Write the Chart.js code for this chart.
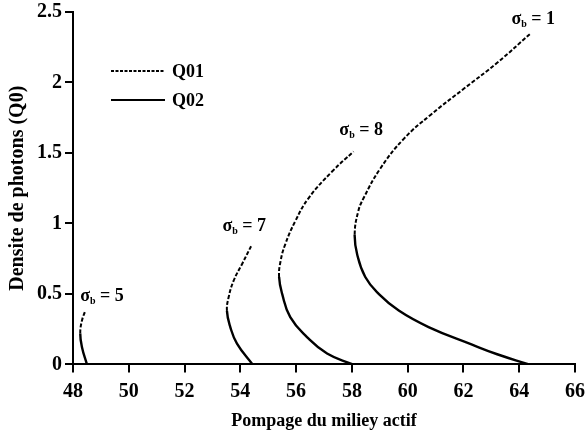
<!DOCTYPE html>
<html>
<head>
<meta charset="utf-8">
<script src="https://cdn.jsdelivr.net/npm/chart.js@4"></script>
<style>
  html, body { margin: 0; padding: 0; background: #fff; }
  #wrap { width: 585px; height: 436px; }
</style>
</head>
<body>
<div id="wrap"><canvas id="foldChart"></canvas></div>
<script>
  // axis extents (ticks every 2 on x, every 0.5 on y)
  const xRange = [48, 66];
  const yRange = [0, 2.5];

  // [pompage, densite] along each curve, from the x-axis end, through the
  // turning point, up to the top end. The *Turn index is where Q01 begins.
  const sigma1Curve = [[64.35, 0], [63.21, 0.072], [62.31, 0.14], [60.75, 0.265], [59.68, 0.382], [58.96, 0.50], [58.48, 0.62], [58.19, 0.78], [58.10, 0.92], [58.22, 1.08], [58.42, 1.18], [59.02, 1.39], [59.86, 1.60], [60.82, 1.77], [62.01, 1.955], [63.21, 2.14], [64.42, 2.35]];
  const sigma1Turn = 8;
  const sigma8Curve = [[58.03, 0], [57.11, 0.077], [56.39, 0.194], [55.79, 0.335], [55.50, 0.50], [55.39, 0.62], [55.44, 0.73], [55.61, 0.852], [55.97, 1.016], [56.45, 1.18], [57.29, 1.368], [58.06, 1.51]];
  const sigma8Turn = 5;
  const sigma7Curve = [[54.44, 0], [53.88, 0.148], [53.64, 0.265], [53.52, 0.38], [53.58, 0.476], [53.76, 0.594], [54.06, 0.711], [54.42, 0.852]];
  const sigma7Turn = 3;
  const sigma5Curve = [[48.50, 0], [48.32, 0.124], [48.26, 0.22], [48.32, 0.31], [48.44, 0.38]];
  const sigma5Turn = 2;

  // curve labels: sigma_b value and where its text starts
  const sigmaLabels = [
    { value: 1, x: 63.72, y: 2.45 },
    { value: 8, x: 57.55, y: 1.66 },
    { value: 7, x: 53.36, y: 0.98 },
    { value: 5, x: 48.26, y: 0.48 }
  ];

  const seriesNames = ["Q01", "Q02"];

  const SERIF = "'Liberation Serif', 'DejaVu Serif', serif";
  const DASH = [4, 2];

  function curve(arr, turn) {
    return {
      label: seriesNames.join("/"),
      data: arr.map(p => ({ x: p[0], y: p[1] })),
      showLine: true,
      borderColor: "#000",
      borderWidth: 2.2,
      pointRadius: 0,
      tension: 0.45,
      fill: false,
      // upper branch (Q01) dashed, lower branch (Q02) solid
      segment: {
        borderDash: ctx => ctx.p0DataIndex >= turn ? DASH : undefined,
        borderWidth: ctx => ctx.p0DataIndex >= turn ? 2 : 2.4
      }
    };
  }

  // legend drawn inside the plot, top-left
  const innerLegend = {
    id: "innerLegend",
    afterDraw(chart) {
      const ctx = chart.ctx;
      const a = chart.chartArea;
      const x0 = a.left + 38, x1 = a.left + 92;
      const rows = [{ y: a.top + 59, dash: [3, 1.5] }, { y: a.top + 88, dash: [] }];
      ctx.save();
      ctx.strokeStyle = "#000";
      ctx.fillStyle = "#000";
      ctx.font = "bold 18px " + SERIF;
      ctx.textBaseline = "middle";
      rows.forEach((r, i) => {
        ctx.lineWidth = 2;
        ctx.setLineDash(r.dash);
        ctx.beginPath();
        ctx.moveTo(x0, r.y);
        ctx.lineTo(x1, r.y);
        ctx.stroke();
        ctx.fillText(seriesNames[i], x1 + 7, r.y + 1);
      });
      ctx.restore();
    }
  };

  // "σb = n" labels next to each curve
  const sigmaText = {
    id: "sigmaText",
    afterDraw(chart) {
      const ctx = chart.ctx;
      const sx = chart.scales.x, sy = chart.scales.y;
      ctx.save();
      ctx.fillStyle = "#000";
      ctx.textBaseline = "middle";
      sigmaLabels.forEach(l => {
        let px = sx.getPixelForValue(l.x);
        const py = sy.getPixelForValue(l.y);
        ctx.font = "bold 18px " + SERIF;
        ctx.fillText("σ", px, py);
        px += ctx.measureText("σ").width;
        ctx.font = "bold 10px " + SERIF;
        ctx.fillText("b", px, py + 5);
        px += ctx.measureText("b").width;
        ctx.font = "bold 18px " + SERIF;
        ctx.fillText(" = " + l.value, px, py);
      });
      ctx.restore();
    }
  };

  const grid = { display: true, drawOnChartArea: false, drawTicks: true, tickLength: 8, color: "#000", lineWidth: 2 };
  const border = { display: true, color: "#000", width: 2 };

  new Chart(document.getElementById("foldChart"), {
    type: "scatter",
    data: {
      datasets: [
        curve(sigma1Curve, sigma1Turn),
        curve(sigma8Curve, sigma8Turn),
        curve(sigma7Curve, sigma7Turn),
        curve(sigma5Curve, sigma5Turn)
      ]
    },
    options: {
      responsive: true,
      maintainAspectRatio: false,
      animation: false,
      layout: { padding: { top: 0, right: 0, left: 6, bottom: 4 } },
      plugins: { legend: { display: false }, tooltip: { enabled: false } },
      scales: {
        x: {
          type: "linear",
          min: xRange[0],
          max: xRange[1],
          grid,
          border,
          // keep only half of the "66" label past the plot's right edge
          afterFit: scale => { scale.paddingRight = 10; },
          ticks: { stepSize: 2, padding: 7, color: "#000", font: { family: SERIF, size: 20, weight: "bold" }, maxRotation: 0 },
          title: { display: true, text: "Pompage du miliey actif", color: "#000", font: { family: SERIF, size: 18, weight: "bold" }, padding: { top: 0, bottom: 0 } }
        },
        y: {
          type: "linear",
          min: yRange[0],
          max: yRange[1],
          grid,
          border,
          ticks: { stepSize: 0.5, padding: 3, color: "#000", font: { family: SERIF, size: 20, weight: "bold", lineHeight: 0.9 }, callback: v => String(v) },
          title: { display: true, text: "Densite de photons (Q0)", color: "#000", font: { family: SERIF, size: 20, weight: "bold" }, padding: { top: 0, bottom: 4 } }
        }
      }
    },
    plugins: [innerLegend, sigmaText]
  });
</script>
</body>
</html>
